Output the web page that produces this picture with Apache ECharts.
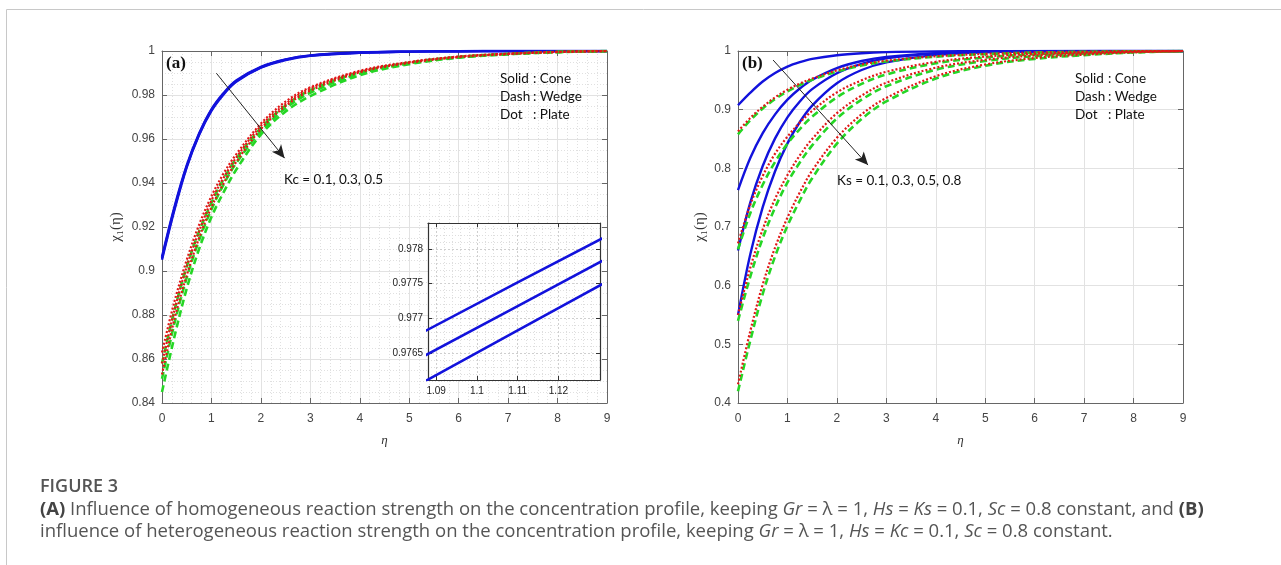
<!DOCTYPE html>
<html>
<head>
<meta charset="utf-8">
<script src="https://cdn.jsdelivr.net/npm/echarts@6/dist/echarts.min.js"></script>
<style>
  html, body { margin: 0; padding: 0; background: #fff; }
  #chart { width: 1281px; height: 565px; }
</style>
</head>
<body>
<div id="chart"></div>
<script>
// eta grid shared by every curve
const eta = [0, 0.25, 0.5, 0.75, 1, 1.25, 1.5, 2, 2.5, 3, 4, 5, 6, 7, 8, 9];

// (a) Kc = 0.1, 0.3, 0.5
const aConeKc1  = [0.9065, 0.929, 0.948, 0.9625, 0.9735, 0.981, 0.9866, 0.9928, 0.9962, 0.998, 0.9993, 0.9997, 0.9999, 1, 1, 1];
const aConeKc3  = [0.9058, 0.9283, 0.9476, 0.9622, 0.9732, 0.9807, 0.9863, 0.9926, 0.9961, 0.9979, 0.9992, 0.9997, 0.9999, 1, 1, 1];
const aConeKc5  = [0.9051, 0.9276, 0.9471, 0.9618, 0.9728, 0.9804, 0.986, 0.9924, 0.9959, 0.9978, 0.9992, 0.9997, 0.9999, 1, 1, 1];
const aWedgeKc1 = [0.858, 0.882, 0.902, 0.918, 0.931, 0.942, 0.951, 0.965, 0.9752, 0.9822, 0.9903, 0.9947, 0.9973, 0.9987, 0.9996, 1];
const aWedgeKc3 = [0.851, 0.876, 0.897, 0.914, 0.928, 0.9395, 0.949, 0.9635, 0.974, 0.981, 0.9897, 0.9944, 0.9971, 0.9986, 0.9995, 1];
const aWedgeKc5 = [0.845, 0.87, 0.892, 0.91, 0.9245, 0.936, 0.946, 0.962, 0.9725, 0.9795, 0.989, 0.994, 0.997, 0.9985, 0.9995, 1];
const aPlateKc1 = [0.863, 0.886, 0.905, 0.921, 0.934, 0.9445, 0.953, 0.967, 0.977, 0.9835, 0.991, 0.995, 0.9975, 0.9988, 0.9996, 1];
const aPlateKc3 = [0.858, 0.882, 0.902, 0.918, 0.932, 0.9425, 0.9515, 0.966, 0.976, 0.983, 0.9907, 0.9948, 0.9974, 0.9987, 0.9996, 1];
const aPlateKc5 = [0.853, 0.878, 0.898, 0.915, 0.929, 0.94, 0.9495, 0.9645, 0.975, 0.982, 0.9903, 0.9946, 0.9972, 0.9986, 0.9995, 1];

// (b) Ks = 0.1, 0.3, 0.5, 0.8
const bConeKs1  = [0.9075, 0.929, 0.948, 0.9625, 0.9735, 0.981, 0.9866, 0.9928, 0.9962, 0.998, 0.9993, 0.9997, 0.9999, 1, 1, 1];
const bConeKs3  = [0.763, 0.818, 0.86, 0.892, 0.917, 0.936, 0.951, 0.971, 0.983, 0.99, 0.9964, 0.9988, 0.9995, 0.9999, 1, 1];
const bConeKs5  = [0.66, 0.742, 0.804, 0.851, 0.887, 0.914, 0.935, 0.962, 0.978, 0.9874, 0.996, 0.9986, 0.9997, 1, 1, 1];
const bConeKs8  = [0.55, 0.654, 0.734, 0.795, 0.8425, 0.879, 0.907, 0.945, 0.9676, 0.9806, 0.9933, 0.9978, 0.9991, 0.9998, 1, 1];
const bWedgeKs1 = [0.858, 0.882, 0.902, 0.918, 0.931, 0.942, 0.951, 0.965, 0.9752, 0.9822, 0.9903, 0.9947, 0.9973, 0.9987, 0.9996, 1];
const bWedgeKs3 = [0.662, 0.724, 0.772, 0.811, 0.842, 0.867, 0.888, 0.921, 0.944, 0.96, 0.979, 0.989, 0.9945, 0.9972, 0.999, 1];
const bWedgeKs5 = [0.54, 0.616, 0.681, 0.733, 0.776, 0.81, 0.839, 0.885, 0.917, 0.94, 0.968, 0.983, 0.9912, 0.9954, 0.9984, 1];
const bWedgeKs8 = [0.42, 0.507, 0.586, 0.65, 0.702, 0.745, 0.783, 0.842, 0.884, 0.914, 0.953, 0.975, 0.9866, 0.993, 0.9974, 1];
const bPlateKs1 = [0.863, 0.886, 0.905, 0.921, 0.934, 0.9445, 0.953, 0.967, 0.977, 0.9835, 0.991, 0.995, 0.9975, 0.9988, 0.9996, 1];
const bPlateKs3 = [0.672, 0.738, 0.787, 0.825, 0.854, 0.878, 0.898, 0.9295, 0.95, 0.9646, 0.9816, 0.9905, 0.9951, 0.9975, 0.9992, 1];
const bPlateKs5 = [0.55, 0.631, 0.696, 0.748, 0.7885, 0.822, 0.85, 0.894, 0.924, 0.946, 0.9716, 0.985, 0.9924, 0.996, 0.9987, 1];
const bPlateKs8 = [0.432, 0.523, 0.602, 0.665, 0.716, 0.759, 0.796, 0.852, 0.892, 0.92, 0.957, 0.977, 0.988, 0.9938, 0.9977, 1];

// inset of (a): the three cone curves around eta = 1.1
const insetEta = [1.085, 1.11, 1.135];
const insetKc1 = [0.97675, 0.97752, 0.97828];
const insetKc3 = [0.9764, 0.97718, 0.97796];
const insetKc5 = [0.97603, 0.97683, 0.97763];
const insetXTicks = [1.09, 1.1, 1.11, 1.12];
const insetYTicks = [0.9765, 0.977, 0.9775, 0.978];

// arrow annotations [start, end] in data units
const arrowA = [[1.1, 0.9899], [2.48, 0.9513]];
const arrowB = [[0.71, 0.9846], [2.63, 0.8055]];

const pairs = (xs, ys) => xs.map((x, i) => [x, ys[i]]);

const styles = {
  cone:  { color: '#1212dc', width: 2.4, type: 'solid' },
  wedge: { color: '#25d625', width: 2.6, type: [7, 4] },
  plate: { color: '#e01818', width: 2.2, type: [2, 2] }
};

function curve(ys, kind, idx, xs) {
  return {
    type: 'line',
    xAxisIndex: idx, yAxisIndex: idx,
    data: pairs(xs || eta, ys),
    showSymbol: false, symbol: 'none',
    smooth: 0.35,
    lineStyle: styles[kind],
    silent: true, animation: false
  };
}

function arrow(pts) {
  return {
    silent: true, animation: false,
    symbol: ['none', 'arrow'], symbolSize: [9, 13],
    lineStyle: { color: '#222', width: 1, type: 'solid' },
    label: { show: false },
    data: [[{ coord: pts[0] }, { coord: pts[1] }]]
  };
}

const axisColor = '#666';
const labelFont = { fontFamily: 'Liberation Sans', fontSize: 12, color: '#444' };

function mainAxis(grid, pos, min, max, step, minorSplit, labels) {
  return {
    type: 'value', gridIndex: grid, position: pos,
    min: min, max: max, interval: step,
    axisLine: { show: true, onZero: false, lineStyle: { color: axisColor, width: 1 } },
    axisTick: { show: true, inside: true, length: 5, lineStyle: { color: axisColor } },
    axisLabel: Object.assign({ show: labels, margin: (pos === 'bottom') ? 10 : 7 }, labelFont),
    splitLine: { show: labels, lineStyle: { color: '#e2e2e2', width: 1 } },
    minorTick: { show: false, splitNumber: minorSplit || 5 },
    minorSplitLine: { show: labels && !!minorSplit, lineStyle: { color: '#e0e0e0', type: [1, 2] } }
  };
}

function insetAxis(pos, min, max, ticks, labels) {
  return {
    type: 'value', gridIndex: 2, position: pos, min: min, max: max, z: 6,
    axisLine: { show: true, onZero: false, lineStyle: { color: '#333', width: 1.2 } },
    axisTick: { show: true, inside: true, length: 4, customValues: ticks, lineStyle: { color: '#333' } },
    axisLabel: { show: labels, customValues: ticks, margin: (pos === 'bottom') ? 6 : 5, fontFamily: 'Liberation Sans', fontSize: 10, color: '#222' },
    splitLine: { show: labels, lineStyle: { color: '#cfcfcf', type: [2, 2] } },
    minorTick: { show: false, splitNumber: 5 },
    minorSplitLine: { show: labels, lineStyle: { color: '#dedede', type: [1, 2] } }
  };
}

const aName = { fontFamily: 'Liberation Serif', fontSize: 15, color: '#333' };

const chart = echarts.init(document.getElementById('chart'), null, { renderer: 'canvas' });

const series = [
  // panel (a)
  Object.assign(curve(aConeKc1, 'cone', 0), { markLine: arrow(arrowA) }),
  curve(aConeKc3, 'cone', 0), curve(aConeKc5, 'cone', 0),
  curve(aWedgeKc1, 'wedge', 0), curve(aWedgeKc3, 'wedge', 0), curve(aWedgeKc5, 'wedge', 0),
  curve(aPlateKc1, 'plate', 0), curve(aPlateKc3, 'plate', 0), curve(aPlateKc5, 'plate', 0),
  // panel (b)
  Object.assign(curve(bConeKs1, 'cone', 1), { markLine: arrow(arrowB) }),
  curve(bConeKs3, 'cone', 1), curve(bConeKs5, 'cone', 1), curve(bConeKs8, 'cone', 1),
  curve(bWedgeKs1, 'wedge', 1), curve(bWedgeKs3, 'wedge', 1), curve(bWedgeKs5, 'wedge', 1), curve(bWedgeKs8, 'wedge', 1),
  curve(bPlateKs1, 'plate', 1), curve(bPlateKs3, 'plate', 1), curve(bPlateKs5, 'plate', 1), curve(bPlateKs8, 'plate', 1),
  // inset
  curve(insetKc1, 'cone', 2, insetEta), curve(insetKc3, 'cone', 2, insetEta), curve(insetKc5, 'cone', 2, insetEta)
];
series.forEach(s => {
  if (s.xAxisIndex === 2) {
    s.smooth = false; s.z = 7;
    s.lineStyle = Object.assign({}, s.lineStyle, { width: 2.6 });
  }
});

// axes: 0 = (a), 1 = (b), 2 = inset; top/right copies draw the closed box
const xAxes = [
  Object.assign(mainAxis(0, 'bottom', 0, 9, 1, 5, true), { name: 'η', nameLocation: 'middle', nameGap: 31, nameTextStyle: Object.assign({}, aName, { fontStyle: 'italic', fontSize: 13 }) }),
  Object.assign(mainAxis(1, 'bottom', 0, 9, 1, 0, true), { name: 'η', nameLocation: 'middle', nameGap: 31, nameTextStyle: Object.assign({}, aName, { fontStyle: 'italic', fontSize: 13 }) }),
  insetAxis('bottom', 1.088, 1.1302, insetXTicks, true),
  mainAxis(0, 'top', 0, 9, 1, 0, false),
  mainAxis(1, 'top', 0, 9, 1, 0, false),
  insetAxis('top', 1.088, 1.1302, insetXTicks, false)
];
const yAxes = [
  Object.assign(mainAxis(0, 'left', 0.84, 1, 0.02, 4, true), { name: 'χ₁(η)', nameLocation: 'middle', nameRotate: 90, nameGap: 38, nameTextStyle: aName }),
  Object.assign(mainAxis(1, 'left', 0.4, 1, 0.1, 0, true), { name: 'χ₁(η)', nameLocation: 'middle', nameRotate: 90, nameGap: 30, nameTextStyle: aName }),
  insetAxis('left', 0.97612, 0.97837, insetYTicks, true),
  mainAxis(0, 'right', 0.84, 1, 0.02, 0, false),
  mainAxis(1, 'right', 0.4, 1, 0.1, 0, false),
  insetAxis('right', 0.97612, 0.97837, insetYTicks, false)
];
xAxes[3].gridIndex = 0; xAxes[4].gridIndex = 1; xAxes[5].gridIndex = 2;
yAxes[3].gridIndex = 0; yAxes[4].gridIndex = 1; yAxes[5].gridIndex = 2;

const txt = (x, y, text, font, extra) => ({
  type: 'text', x: x, y: y, silent: true, z: 50,
  style: Object.assign({ text: text, font: font, fill: '#111', verticalAlign: 'middle', align: 'left' }, extra || {})
});
const noteFont = '13.5px Lato';
const capRich = {
  b: { fontFamily: 'Open Sans', fontSize: 18.5, fontWeight: 'bold', fill: '#444' },
  i: { fontFamily: 'Open Sans', fontSize: 18.5, fontStyle: 'italic', fill: '#555' }
};

chart.setOption({
  animation: false,
  grid: [
    { left: 162, top: 51, width: 445, height: 352 },
    { left: 738, top: 51, width: 445, height: 352 },
    { left: 428, top: 223, width: 172, height: 157, show: true, backgroundColor: '#fff', borderWidth: 0, z: 3 }
  ],
  xAxis: xAxes,
  yAxis: yAxes,
  series: series,
  graphic: [
    { type: 'polyline', silent: true, shape: { points: [[6.5, 565], [6.5, 9.5], [1281, 9.5]] }, style: { stroke: '#c8c8c8', lineWidth: 1, fill: null } },
    txt(166, 64, '(a)', 'bold 17px "Liberation Serif"'),
    txt(742, 64, '(b)', 'bold 17px "Liberation Serif"'),
    txt(500, 79, 'Solid', noteFont), txt(533, 79, ': Cone', noteFont),
    txt(500, 97, 'Dash', noteFont), txt(533, 97, ': Wedge', noteFont),
    txt(500, 115, 'Dot', noteFont), txt(533, 115, ': Plate', noteFont),
    txt(1075, 79, 'Solid', noteFont), txt(1108, 79, ': Cone', noteFont),
    txt(1075, 97, 'Dash', noteFont), txt(1108, 97, ': Wedge', noteFont),
    txt(1075, 115, 'Dot', noteFont), txt(1108, 115, ': Plate', noteFont),
    txt(284, 180, 'Kc = 0.1, 0.3, 0.5', noteFont),
    txt(837, 181, 'Ks = 0.1, 0.3, 0.5, 0.8', noteFont),
    txt(40, 487, 'FIGURE 3', '600 18px "Open Sans"', { fill: '#555' }),
    txt(40, 510, '{b|(A)} Influence of homogeneous reaction strength on the concentration profile, keeping {i|Gr} = λ = 1, {i|Hs} = {i|Ks} = 0.1, {i|Sc} = 0.8 constant, and {b|(B)}',
      '18.5px "Open Sans"', { fill: '#555', rich: capRich }),
    txt(40, 532, 'influence of heterogeneous reaction strength on the concentration profile, keeping {i|Gr} = λ = 1, {i|Hs} = {i|Kc} = 0.1, {i|Sc} = 0.8 constant.',
      '18.5px "Open Sans"', { fill: '#555', rich: capRich })
  ]
});

window.addEventListener('resize', () => chart.resize());
</script>
</body>
</html>
